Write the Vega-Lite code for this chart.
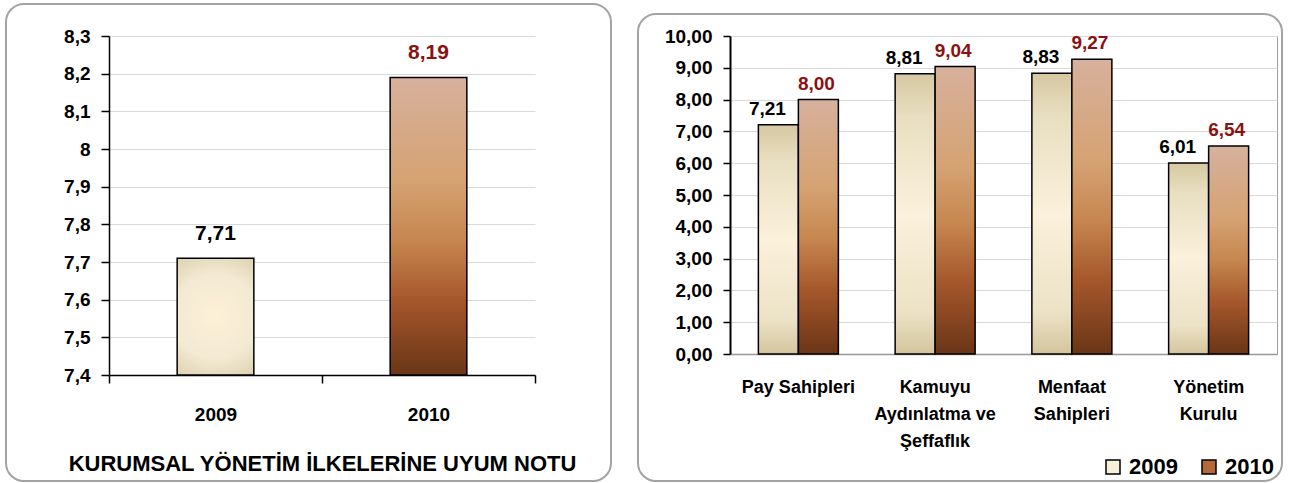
{
  "$schema": "https://vega.github.io/schema/vega-lite/v6.json",
  "padding": {"left": 5, "top": 3, "right": 0, "bottom": 0},
  "background": "white",
  "bounds": "flush",
  "spacing": 195,
  "datasets": {
    "genel": [
      {"yil": "2009", "not": 7.71},
      {"yil": "2010", "not": 8.19}
    ],
    "ilkeler": [
      {"kategori": "Pay Sahipleri", "yil": "2009", "deger": 7.21},
      {"kategori": "Pay Sahipleri", "yil": "2010", "deger": 8.00},
      {"kategori": "Kamuyu Aydınlatma ve Şeffaflık", "yil": "2009", "deger": 8.81},
      {"kategori": "Kamuyu Aydınlatma ve Şeffaflık", "yil": "2010", "deger": 9.04},
      {"kategori": "Menfaat Sahipleri", "yil": "2009", "deger": 8.83},
      {"kategori": "Menfaat Sahipleri", "yil": "2010", "deger": 9.27},
      {"kategori": "Yönetim Kurulu", "yil": "2009", "deger": 6.01},
      {"kategori": "Yönetim Kurulu", "yil": "2010", "deger": 6.54}
    ]
  },
  "hconcat": [
    {
      "width": 426,
      "height": 339,
      "view": {"stroke": null},
      "data": {"name": "genel"},
      "encoding": {
        "x": {
          "field": "yil", "type": "nominal",
          "scale": {"paddingInner": 0, "paddingOuter": 0},
          "axis": {
            "title": "KURUMSAL YÖNETİM İLKELERİNE UYUM NOTU",
            "titleFontSize": 22, "titleFontWeight": "bold", "titlePadding": 29,
            "labelAngle": 0, "labelFontSize": 19, "labelPadding": 22,
            "tickBand": "extent", "tickSize": 8, "tickColor": "black", "tickWidth": 1.5,
            "domainColor": "black", "domainWidth": 1.5, "grid": false
          }
        },
        "y": {
          "field": "not", "type": "quantitative",
          "scale": {"domain": [7.4, 8.3], "zero": false, "nice": false},
          "axis": {
            "title": null,
            "values": [7.4, 7.5, 7.6, 7.7, 7.8, 7.9, 8.0, 8.1, 8.2, 8.3],
            "tickCount": 12,
            "format": "~g",
            "labelOverlap": false, "labelFlush": false,
            "labelFontSize": 19, "labelPadding": 11,
            "tickSize": 8, "tickColor": "black", "tickWidth": 1.5,
            "domainColor": "black", "domainWidth": 1.5,
            "grid": true
          }
        }
      },
      "layer": [
        {
          "data": {"values": [{}]},
          "mark": {"type": "rect", "fill": "white", "fillOpacity": 0, "stroke": "#a3a3a3", "strokeWidth": 2, "cornerRadius": 18},
          "encoding": {
            "x": {"value": -103},
            "x2": {"value": 502},
            "y": {"value": -32},
            "y2": {"value": 445}
          }
        },
        {
          "mark": {"type": "bar", "width": {"band": 0.36}, "stroke": "black", "strokeWidth": 1.5},
          "encoding": {
            "y2": {"datum": 7.4},
            "fill": {
              "condition": {
                "test": "datum.yil === '2010'",
                "value": {"gradient": "linear", "x1": 0, "y1": 0, "x2": 0, "y2": 1,
                  "stops": [
                    {"offset": 0, "color": "#d7b19d"},
                    {"offset": 0.35, "color": "#d5a272"},
                    {"offset": 0.55, "color": "#c6864f"},
                    {"offset": 0.75, "color": "#a5572b"},
                    {"offset": 1, "color": "#6a3517"}
                  ]}
              },
              "value": {"gradient": "radial", "x1": 0.5, "y1": 0.5, "r1": 0, "x2": 0.5, "y2": 0.5, "r2": 0.72,
                "stops": [
                  {"offset": 0, "color": "#fdf0d6"},
                  {"offset": 0.5, "color": "#f3ead3"},
                  {"offset": 1, "color": "#d3c59e"}
                ]}
            }
          }
        },
        {
          "mark": {"type": "text", "fontSize": 21, "fontWeight": "bold", "baseline": "alphabetic", "dy": -18},
          "encoding": {
            "text": {"field": "not", "type": "quantitative", "format": ".2f"},
            "color": {"condition": {"test": "datum.yil === '2010'", "value": "#8b1111"}, "value": "black"}
          }
        }
      ]
    },
    {
      "width": 547,
      "height": 318,
      "view": {"stroke": "#a0a0a0", "strokeWidth": 1},
      "data": {"name": "ilkeler"},
      "encoding": {
        "x": {
          "field": "kategori", "type": "nominal", "sort": null,
          "scale": {"paddingInner": 0.415, "paddingOuter": 0.2075},
          "axis": {
            "title": null, "labelAngle": 0, "labelFontSize": 18, "labelLineHeight": 27,
            "labelPadding": 24, "ticks": false, "labelOverlap": false,
            "domainColor": "#999999", "domainWidth": 1.5, "grid": false,
            "labelExpr": "datum.value == 'Kamuyu Aydınlatma ve Şeffaflık' ? ['Kamuyu', 'Aydınlatma ve', 'Şeffaflık'] : datum.value == 'Menfaat Sahipleri' ? ['Menfaat', 'Sahipleri'] : datum.value == 'Yönetim Kurulu' ? ['Yönetim', 'Kurulu'] : datum.value"
          }
        },
        "xOffset": {"field": "yil", "type": "nominal", "scale": {"domain": ["2009", "2010"], "paddingInner": 0, "paddingOuter": 0}},
        "y": {
          "field": "deger", "type": "quantitative",
          "scale": {"domain": [0, 10], "nice": false},
          "axis": {
            "title": null,
            "values": [0, 1, 2, 3, 4, 5, 6, 7, 8, 9, 10],
            "tickCount": 12,
            "format": ".2f",
            "labelOverlap": false, "labelFlush": false,
            "labelFontSize": 19, "labelPadding": 11,
            "tickSize": 7, "tickColor": "black", "tickWidth": 1.5,
            "domainColor": "black", "domainWidth": 2,
            "grid": true
          }
        }
      },
      "layer": [
        {
          "data": {"values": [{}]},
          "mark": {"type": "rect", "fill": "white", "fillOpacity": 0, "stroke": "#a3a3a3", "strokeWidth": 2, "cornerRadius": 18},
          "encoding": {
            "x": {"value": -92},
            "x2": {"value": 552},
            "y": {"value": -22},
            "y2": {"value": 445},
            "xOffset": {"value": 0}
          }
        },
        {
          "mark": {"type": "bar", "stroke": "black", "strokeWidth": 1.5},
          "encoding": {
            "fill": {
              "condition": {
                "test": "datum.yil === '2010'",
                "value": {"gradient": "linear", "x1": 0, "y1": 0, "x2": 0, "y2": 1,
                  "stops": [
                    {"offset": 0, "color": "#d7b19d"},
                    {"offset": 0.35, "color": "#d5a272"},
                    {"offset": 0.55, "color": "#c6864f"},
                    {"offset": 0.75, "color": "#a5572b"},
                    {"offset": 1, "color": "#6a3517"}
                  ]}
              },
              "value": {"gradient": "linear", "x1": 0, "y1": 0, "x2": 0, "y2": 1,
                "stops": [
                  {"offset": 0, "color": "#d6c8a2"},
                  {"offset": 0.15, "color": "#e8dec0"},
                  {"offset": 0.5, "color": "#fbf1dc"},
                  {"offset": 0.85, "color": "#ece2c6"},
                  {"offset": 1, "color": "#d4c59d"}
                ]}
            }
          }
        },
        {
          "transform": [{"filter": "datum.yil === '2009'"}],
          "mark": {"type": "text", "fontSize": 19, "fontWeight": "bold", "baseline": "alphabetic", "dy": -10, "dx": -11, "color": "black"},
          "encoding": {
            "text": {"field": "deger", "type": "quantitative", "format": ".2f"}
          }
        },
        {
          "transform": [{"filter": "datum.yil === '2010'"}],
          "mark": {"type": "text", "fontSize": 19, "fontWeight": "bold", "baseline": "alphabetic", "dy": -10, "dx": -2, "color": "#8b1111"},
          "encoding": {
            "text": {"field": "deger", "type": "quantitative", "format": ".2f"}
          }
        },
        {
          "mark": {"type": "square", "filled": true, "opacity": 0},
          "encoding": {
            "color": {
              "field": "yil", "type": "nominal",
              "scale": {"domain": ["2009", "2010"], "range": ["#f6efd9", "#b5683a"]},
              "legend": {
                "title": null, "orient": "none", "legendX": 372, "legendY": 420,
                "direction": "horizontal", "symbolType": "square", "symbolSize": 196,
                "labelFontSize": 22, "labelFontWeight": "bold", "labelColor": "black",
                "labelOffset": 5, "columnPadding": 20, "padding": 0,
                "symbolOpacity": 1, "symbolStrokeColor": "black", "symbolStrokeWidth": 1.5,
                "encode": {"symbols": {"update": {"stroke": {"value": "black"}, "strokeWidth": {"value": 1.5}, "opacity": {"value": 1}, "fillOpacity": {"value": 1}}}}
              }
            }
          }
        }
      ]
    }
  ],
  "resolve": {"scale": {"color": "independent"}, "legend": {"color": "independent"}},
  "config": {
    "font": "Liberation Sans",
    "view": {"stroke": null},
    "axis": {"labelFont": "Liberation Sans", "labelFontWeight": "bold", "labelColor": "black", "titleFont": "Liberation Sans", "titleColor": "black", "gridColor": "#d9d9d9", "gridWidth": 1},
    "legend": {"labelFont": "Liberation Sans"},
    "text": {"font": "Liberation Sans"},
    "locale": {"number": {"decimal": ",", "thousands": ".", "grouping": [3], "currency": ["", ""]}}
  }
}
